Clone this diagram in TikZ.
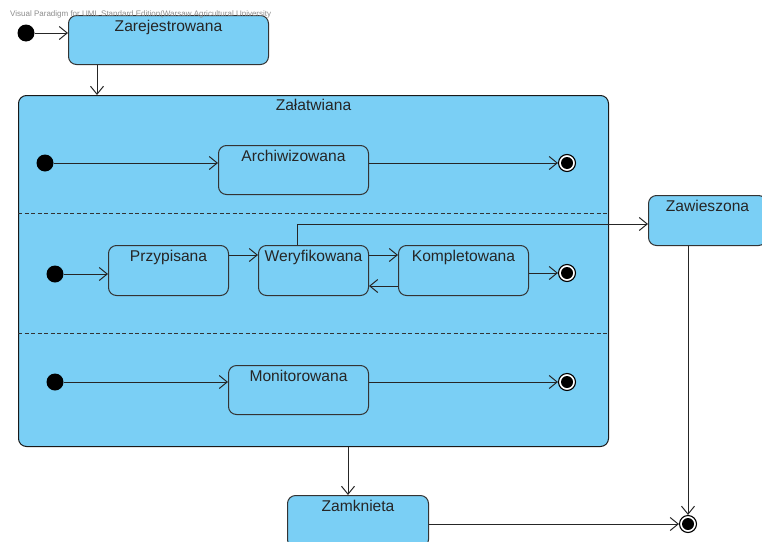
\documentclass[tikz,border=0pt]{standalone}
\usepackage{fontspec}
\setmainfont{Liberation Sans}
\usetikzlibrary{arrows.meta}
\definecolor{statefill}{HTML}{7ACFF5}
\definecolor{stateline}{HTML}{333333}
\definecolor{marktext}{HTML}{8C8C8C}
\begin{document}
\begin{tikzpicture}[x=1pt,y=-1pt,
  statebox/.style={draw=stateline, fill=statefill, rounded corners=8pt,
    line width=1pt, inner sep=0pt, anchor=north west},
  compbox/.style={statebox, draw=black!90},
  statename/.style={font=\fontsize{15.6}{18}\selectfont, text=black!85,
    anchor=north, inner sep=0pt},
  initst/.style={circle, fill=black, minimum size=17pt, inner sep=0pt},
  finalst/.style={circle, draw=black, line width=1.1pt, fill=white,
    minimum size=17pt, inner sep=0pt,
    path picture={\fill[black] (path picture bounding box.center) circle (6pt);}},
  conn/.style={draw=black!85, line width=0.9pt,
    -{Straight Barb[length=8pt,width=13pt,line width=1pt]}},
  divider/.style={draw=black!80, line width=0.9pt, dash pattern=on 4pt off 2.5pt},
]
\useasboundingbox (0,0) rectangle (762,541);
\clip (0,0) rectangle (762,541);

% top-level states
\node[statebox, minimum width=200, minimum height=49] (zarej) at (68,15) {};
\node[statename] (zarejT) at ([yshift=-5pt]zarej.north) {Zarejestrowana};

\node[compbox, minimum width=590, minimum height=351] (zal) at (18,95) {};
\node[statename] (zalT) at ([yshift=-4pt]zal.north) {Załatwiana};

\node[statebox, minimum width=118, minimum height=50] (zaw) at (648,195) {};
\node[statename] (zawT) at ([yshift=-5pt]zaw.north) {Zawieszona};

\node[statebox, minimum width=141, minimum height=52] (zamk) at (287,495) {};
\node[statename] (zamkT) at ([yshift=-5pt]zamk.north) {Zamknieta};

% orthogonal regions
\draw[divider] ([yshift=-118.5pt]zal.north west) -- ([yshift=-118.5pt]zal.north east);
\draw[divider] ([yshift=-238.5pt]zal.north west) -- ([yshift=-238.5pt]zal.north east);

% region 1
\node[statebox, minimum width=150, minimum height=49] (arch) at (218,145) {};
\node[statename] (archT) at ([yshift=-5pt]arch.north) {Archiwizowana};

% region 2
\node[statebox, minimum width=120, minimum height=50] (prz) at (108,245) {};
\node[statename] (przT) at ([yshift=-5pt]prz.north) {Przypisana};
\node[statebox, minimum width=110, minimum height=50] (wer) at (258,245) {};
\node[statename] (werT) at ([yshift=-5pt]wer.north) {Weryfikowana};
\node[statebox, minimum width=130, minimum height=50] (kompl) at (398,245) {};
\node[statename] (komplT) at ([yshift=-5pt]kompl.north) {Kompletowana};

% region 3
\node[statebox, minimum width=140, minimum height=49] (mon) at (228,365) {};
\node[statename] (monT) at ([yshift=-5pt]mon.north) {Monitorowana};

% pseudo states
\node[initst] (i0) at (26,33) {};
\node[initst] (i1) at (45,163) {};
\node[initst] (i2) at (55,274) {};
\node[initst] (i3) at (55,382) {};
\node[finalst] (f1) at (567,163) {};
\node[finalst] (f2) at (567,273) {};
\node[finalst] (f3) at (567,382) {};
\node[finalst] (fend) at (688,524) {};

% transitions
\draw[conn] (i0) -- (i0 -| zarej.west);
\draw[conn] ([xshift=29pt]zarej.south west) -- ([xshift=29pt]zarej.south west |- zal.north);

\draw[conn] (i1) -- (i1 -| arch.west);
\draw[conn] (arch.east |- f1) -- (f1);

\draw[conn] (i2) -- (i2 -| prz.west);
\draw[conn] ([yshift=-10pt]prz.north east) -- ([yshift=-10pt]prz.north east -| wer.west);
\draw[conn] ([yshift=-10pt]wer.north east) -- ([yshift=-10pt]wer.north east -| kompl.west);
\draw[conn] ([yshift=10pt]kompl.south west) -- ([yshift=10pt]kompl.south west -| wer.east);
\draw[conn] (kompl.east |- f2) -- (f2);
\draw[conn] ([xshift=39pt]wer.north west) |- ([yshift=-29pt]zaw.north west);

\draw[conn] (i3) -- (i3 -| mon.west);
\draw[conn] (mon.east |- f3) -- (f3);

\draw[conn] ([xshift=61pt]zamk.north west |- zal.south) -- ([xshift=61pt]zamk.north west);
\draw[conn] (zamk.east |- fend) -- (fend);
\draw[conn] (fend |- zaw.south) -- (fend);

% edition mark
\node[font=\fontsize{8}{9.5}\selectfont, text=marktext, anchor=base west, inner sep=0pt]
  (mark) at (10,16.5) {Visual Paradigm for UML Standard Edition(Warsaw Agricultural University};
\end{tikzpicture}
\end{document}
